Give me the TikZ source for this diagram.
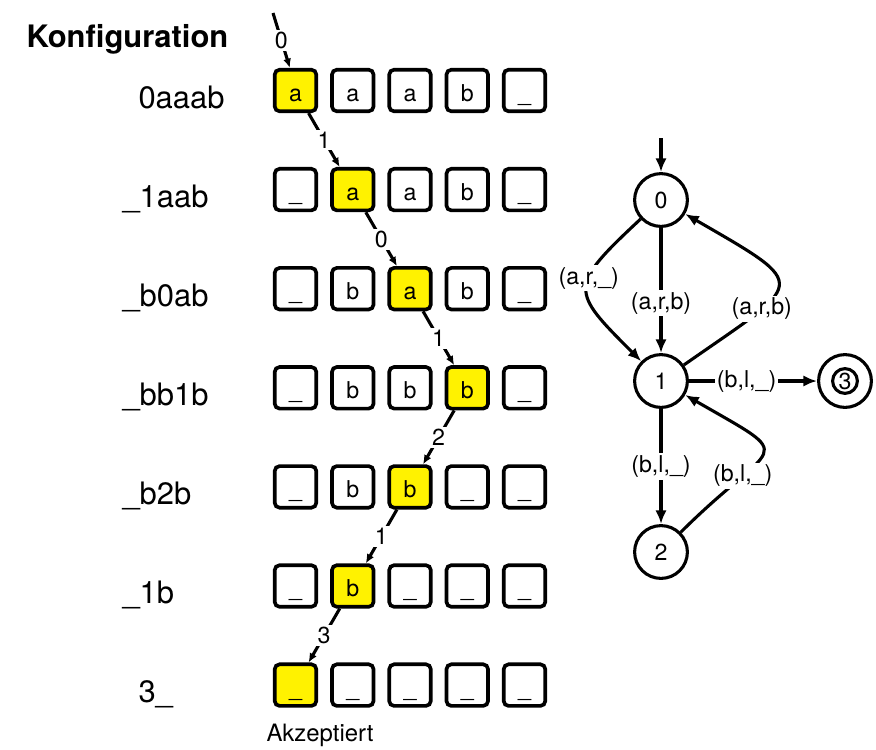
\documentclass[tikz,border=0pt]{standalone}
\usepackage{fontspec}
\setmainfont{TeX Gyre Heros}
\usetikzlibrary{arrows.meta}

\begin{document}
\begin{tikzpicture}[
        line width=2.2pt,
        cell/.style={draw, line width=2.6pt, rounded corners=3.5pt, minimum size=1.04cm,
                   inner sep=0pt, font=\fontsize{16.5}{18}\selectfont,
                   text height=15.5pt, text depth=0pt},
        conf/.style={anchor=base west, inner sep=0pt, font=\fontsize{22}{26}\selectfont},
        num/.style={fill=white, inner sep=1.5pt, font=\fontsize{16.5}{18}\selectfont},
        state/.style={draw, circle, minimum size=1.32cm, inner sep=0pt,
                   font=\fontsize{16.5}{18}\selectfont},
        lbl/.style={fill=white, inner sep=1.5pt, font=\fontsize{16.5}{18}\selectfont},
        tarr/.style={-{Latex[length=2.3mm,width=2mm]}},
        sarr/.style={-{Latex[length=3.4mm,width=2.8mm]}},
    ]
        \useasboundingbox (0,0) rectangle (21.9,-18.725);
        % Configurations and tape.
        \node[conf, font=\fontsize{22}{26}\selectfont\bfseries] (title) at (0.625,-1.175)
            {Konfiguration};
        \foreach \r/\t/\x in {0/0aaab/3.425, 1/\_1aab/3.025, 2/\_b0ab/3.025,
                              3/\_bb1b/3.025, 4/\_b2b/3.025, 5/\_1b/3.025, 6/3\_/3.425}{
            \node[conf] (k\r) at (\x,{-2.7-2.4775*\r}) {\t};}
        \foreach \r/\ca/\cb/\cc/\cd/\ce/\h in {0/a/a/a/b/\_/0, 1/\_/a/a/b/\_/1,
                 2/\_/b/a/b/\_/2, 3/\_/b/b/b/\_/3, 4/\_/b/b/\_/\_/2,
                 5/\_/b/\_/\_/\_/1, 6/\_/\_/\_/\_/\_/0}{
            \foreach \j/\c in {0/\ca, 1/\cb, 2/\cc, 3/\cd, 4/\ce}{
                \ifnum\j=\h \def\bg{yellow}\else\def\bg{white}\fi
                \node[cell, fill=\bg] (c-\r-\j) at ({7.3875+1.43125*\j},{-2.2625-2.4775*\r}) {\c};}}
        \node[anchor=base west, inner sep=0pt, font=\fontsize{17}{20}\selectfont] (acc)
            at (6.625,-18.525) {Akzeptiert};
        % Head moves.
        \coordinate (start) at (6.825,-0.325);
        \draw[tarr] (start) -- node[num] {0} (c-0-0.104);
        \draw[tarr] (c-0-0.-60) -- node[num] {1} (c-1-1.120);
        \draw[tarr] (c-1-1.-60) -- node[num] {0} (c-2-2.120);
        \draw[tarr] (c-2-2.-60) -- node[num] {1} (c-3-3.120);
        \draw[tarr] (c-3-3.-120) -- node[num] {2} (c-4-2.60);
        \draw[tarr] (c-4-2.-120) -- node[num] {1} (c-5-1.60);
        \draw[tarr] (c-5-1.-120) -- node[num] {3} (c-6-0.60);
        % State diagram.
        \node[state] (s0) at (16.525,-5.0) {0};
        \node[state] (s1) at (16.525,-9.525) {1};
        \node[state] (s2) at (16.525,-13.8) {2};
        \node[state] (s3) at (21.125,-9.525) {3};
        \draw (s3.center) circle (0.31);
        \coordinate (init) at (16.525,-3.45);
        \draw[sarr] (init) -- (s0);
        \draw[sarr] (s0) -- node[lbl, pos=0.6] {(a,r,b)} (s1);
        \draw[sarr] (s0) to[out=-137, in=135, looseness=1.8]
            node[lbl, pos=0.4] {(a,r,\_)} (s1);
        \draw[sarr] (s1) to[out=35, in=-30, looseness=2.5]
            node[lbl, pos=0.3] {(a,r,b)} (s0);
        \draw[sarr] (s1) -- node[lbl, pos=0.45] {(b,l,\_)} (s3);
        \draw[sarr] (s1) -- node[lbl] {(b,l,\_)} (s2);
        \draw[sarr] (s2) to[out=45, in=-30, looseness=2.5]
            node[lbl, pos=0.28] {(b,l,\_)} (s1);
    \end{tikzpicture}
\end{document}
